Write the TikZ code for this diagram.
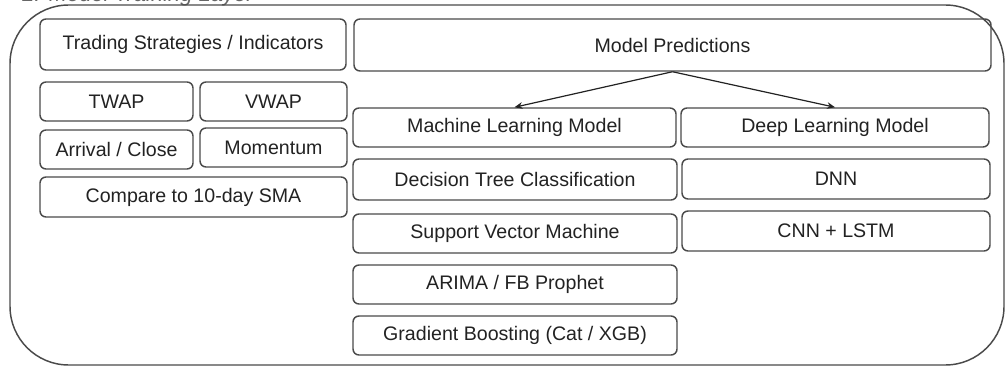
\documentclass[tikz,border=0pt]{standalone}
\usepackage{fontspec}
\setmainfont{Liberation Sans}
\usetikzlibrary{arrows.meta}
\definecolor{edge}{HTML}{4A4A4A}
\definecolor{ink}{HTML}{222222}
\definecolor{heading}{HTML}{666666}
\tikzset{
  box/.style={draw=edge, line width=1.1pt, rounded corners=4.5pt, inner sep=0pt,
    text=ink, font=\fontsize{14.7pt}{16pt}\selectfont},
  arr/.style={draw=ink, line width=0.9pt, -{Stealth[length=6pt,width=5pt]}},
  frame/.style={draw=edge, line width=1.1pt, rounded corners=44pt}
}
% box given by its corners in pixel units: name, x1, y1, x2, y2, text
\newcommand\pbox[6]{\node[box, minimum width={(#4-#2)*0.75pt}, minimum height={(#5-#3)*0.75pt}]
  (#1) at ({(#2+#4)/2},{(#3+#5)/2}) {#6};}
\begin{document}
\begin{tikzpicture}[x=0.75pt, y=-0.75pt]
\path[use as bounding box] (0,0) rectangle (1006,367);
\clip (0,0) rectangle (1006,367);

% layer heading, running off the top edge
\node[anchor=base west, inner sep=0pt, text=heading, font=\fontsize{16.5pt}{18pt}\selectfont\itshape]
  (title) at (22,1.5) {2. Model Training Layer};

% outer frame of the layer
\draw[frame] (10,5) rectangle (1004,365);

% strategies column
\pbox{ts}{40}{19}{346}{70}{Trading Strategies / Indicators}
\pbox{twap}{40}{82}{193}{121}{TWAP}
\pbox{vwap}{200}{82}{347}{121}{VWAP}
\pbox{arr}{40}{130}{193}{169}{Arrival / Close}
\pbox{mom}{200}{128}{347}{167}{Momentum}
\pbox{sma}{40}{177}{347}{217}{Compare to 10-day SMA}

% predictions
\pbox{mp}{354}{19}{991}{71}{Model Predictions}

% machine learning column
\pbox{ml}{353}{108}{676}{147}{Machine Learning Model}
\pbox{dt}{353}{159}{677}{200}{Decision Tree Classification}
\pbox{svm}{353}{214}{677}{253}{Support Vector Machine}
\pbox{arima}{353}{265}{677}{304}{ARIMA / FB Prophet}
\pbox{gb}{353}{316}{677}{355}{Gradient Boosting (Cat / XGB)}

% deep learning column
\pbox{dl}{681}{108}{989}{147}{Deep Learning Model}
\pbox{dnn}{682}{159}{990}{199}{DNN}
\pbox{cnn}{682}{211}{990}{251}{CNN + LSTM}

% connectors
\draw[arr] (mp.south) -- (ml.north);
\draw[arr] (mp.south) -- (dl.north);
\end{tikzpicture}
\end{document}
